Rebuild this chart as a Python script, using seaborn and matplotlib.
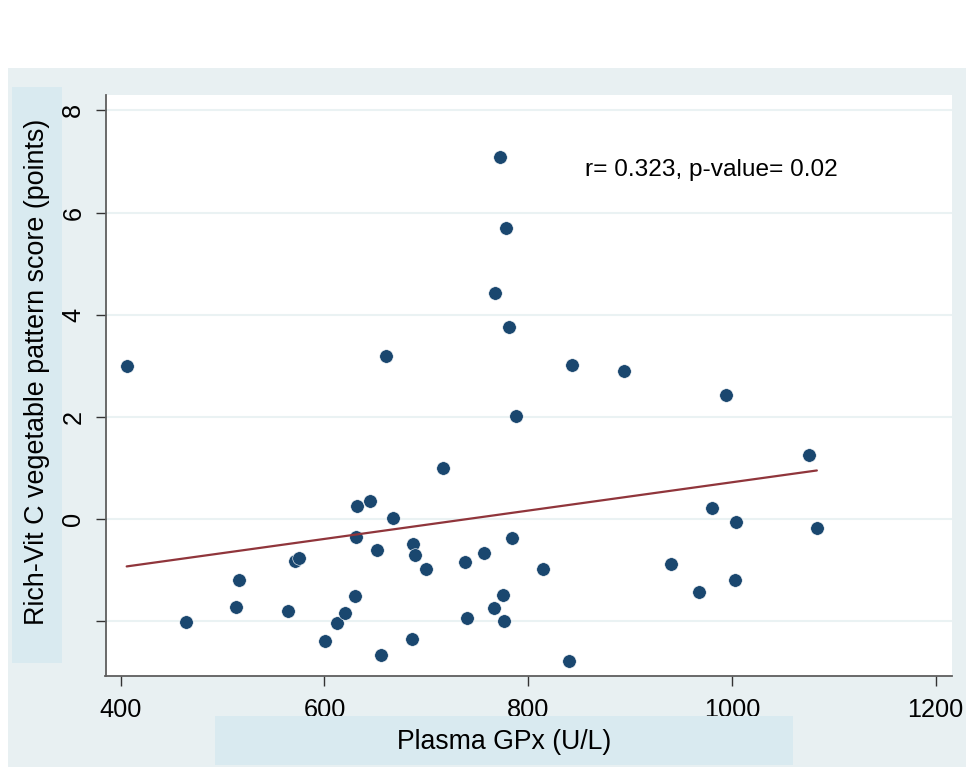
import matplotlib
matplotlib.use("Agg")
import matplotlib.pyplot as plt
from matplotlib.patches import Rectangle
import seaborn as sns
import pandas as pd

# ---- data ----
gpx = [405.8, 464.0, 515.7, 513.1, 563.9, 571.0, 575.0, 600.8, 612.0, 620.1,
       630.0, 631.6, 645.0, 630.6, 651.2, 655.5, 660.1, 667.5, 716.6, 687.2,
       688.5, 699.7, 738.3, 756.9, 783.8, 814.2, 940.3, 685.6, 740.2, 766.7,
       775.6, 776.5, 839.7, 772.0, 778.5, 767.7, 781.4, 843.0, 893.8, 993.9,
       787.7, 1075.7, 980.2, 1004.0, 1083.4, 968.0, 1002.8]
score = [3.00, -2.02, -1.19, -1.72, -1.79, -0.81, -0.76, -2.38, -2.03, -1.84,
         -1.51, 0.26, 0.36, -0.35, -0.61, -2.66, 3.19, 0.02, 1.01, -0.48,
         -0.70, -0.97, -0.84, -0.67, -0.37, -0.97, -0.87, -2.34, -1.94, -1.73,
         -1.49, -2.00, -2.78, 7.08, 5.69, 4.43, 3.76, 3.01, 2.90, 2.43,
         2.02, 1.26, 0.21, -0.05, -0.18, -1.42, -1.20]
x_ticks = [400, 600, 800, 1000, 1200]
y_ticks = [-2, 0, 2, 4, 6, 8]
y_tick_labels = ["", "0", "2", "4", "6", "8"]
annotation = "r= 0.323, p-value= 0.02"
x_title = "Plasma GPx (U/L)"
y_title = "Rich-Vit C vegetable pattern score (points)"

df = pd.DataFrame({"gpx": gpx, "score": score})

sns.set_theme(style="white")
plt.rcParams["font.family"] = ["Liberation Sans", "DejaVu Sans"]

W, H = 966, 767
fig = plt.figure(figsize=(W / 100, H / 100), dpi=100)
fig.patch.set_facecolor("white")

BG = "#E8F0F2"
BOX = "#D9EAF0"

def px_rect(x0, y0, x1, y1, color, z):
    r = Rectangle((x0 / W, 1 - y1 / H), (x1 - x0) / W, (y1 - y0) / H,
                  transform=fig.transFigure, facecolor=color, edgecolor="none",
                  zorder=z)
    fig.add_artist(r)

# outer graph region
px_rect(8, 68, W, H, BG, -10)

ax = fig.add_axes([105.5 / W, 1 - 676 / H, (951.5 - 105.5) / W, (676 - 94.5) / H])
ax.set_facecolor("white")
ax.set_zorder(1)

sns.regplot(data=df, x="gpx", y="score", ax=ax, ci=None, truncate=True,
            scatter_kws=dict(s=95, color="#1A476F", edgecolor="white",
                             linewidths=0.4, alpha=1, zorder=3),
            line_kws=dict(color="#90353B", lw=1.6, zorder=4))

ax.set_xlim(385.0, 1215.6)
ax.set_ylim(-3.07, 8.31)
ax.set_xticks(x_ticks)
ax.set_xticklabels([str(t) for t in x_ticks])
ax.set_yticks(y_ticks)
ax.set_yticklabels(y_tick_labels, rotation=90, va="center")

ax.grid(axis="y", color="#EAF2F3", lw=1.5, zorder=0)
ax.grid(axis="x", visible=False)
ax.set_axisbelow(True)

for s in ["top", "right"]:
    ax.spines[s].set_visible(False)
ax.spines["left"].set_color("#5E5E5E")
ax.spines["left"].set_linewidth(1.3)
ax.spines["bottom"].set_color("#5E5E5E")
ax.spines["bottom"].set_linewidth(1.3)

ax.tick_params(axis="both", which="major", direction="out", length=7.5,
               width=1.0, color="#333333", labelsize=18.2, labelcolor="black",
               bottom=True, left=True)
ax.tick_params(axis="x", pad=8)
ax.tick_params(axis="y", pad=7)

ax.set_xlabel("")
ax.set_ylabel("")

ax.text(856, 6.84, annotation, fontsize=17.6, va="center", ha="left",
        color="black")

# title boxes
px_rect(12, 87, 62, 663, BOX, 2)
px_rect(215, 716, 793, 765, BOX, 2)
fig.text(37 / W, 1 - 372 / H, y_title, rotation=90, ha="center", va="center",
         fontsize=19.4, color="black", zorder=3)
fig.text(504 / W, 1 - 742 / H, x_title, ha="center", va="center",
         fontsize=19.2, color="black", zorder=3)

fig.savefig("out.png", dpi=100, facecolor=fig.get_facecolor())
